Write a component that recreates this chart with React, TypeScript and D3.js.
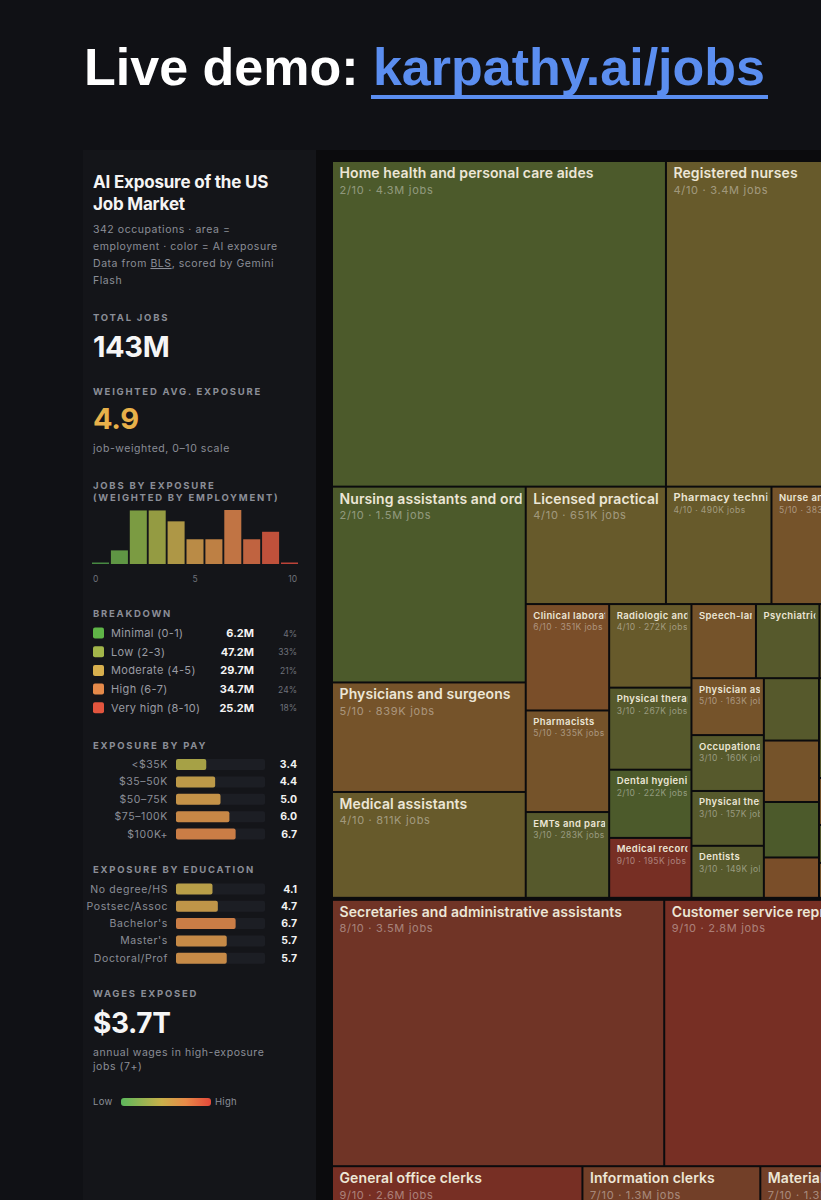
// App.tsx
// AI exposure of the US job market: sidebar stats + treemap, drawn with d3 scales and layout
import React from "react";
import * as d3 from "d3";

// ---- sidebar data ----
const totalJobsLabel = "143M";
const avgExposure = 4.9;
const wagesExposedLabel = "$3.7T";

const histExposure = [0, 1, 2, 3, 4, 5, 6, 7, 8, 9, 10];
const histJobsM = [0.2, 6.0, 23.6, 23.6, 18.8, 10.9, 10.9, 23.8, 10.9, 14.2, 0.1];

const tierLabels = ["Minimal (0-1)", "Low (2-3)", "Moderate (4-5)", "High (6-7)", "Very high (8-10)"];
const tierJobsM = [6.2, 47.2, 29.7, 34.7, 25.2];
const tierPct = [4, 33, 21, 24, 18];

const payBands = ["<$35K", "$35–50K", "$50–75K", "$75–100K", "$100K+"];
const payExposure = [3.4, 4.4, 5.0, 6.0, 6.7];

const eduLevels = ["No degree/HS", "Postsec/Assoc", "Bachelor's", "Master's", "Doctoral/Prof"];
const eduExposure = [4.1, 4.7, 6.7, 5.7, 5.7];

// ---- treemap data ----
const occNames = [
  "Home health and personal care aides",
  "Registered nurses",
  "Nursing assistants and orderlies",
  "Physicians and surgeons",
  "Medical assistants",
  "Licensed practical and licensed vocational nurses",
  "Pharmacy technicians",
  "Nurse anesthetists, nurse midwives, and nurse practitioners",
  "Dental assistants",
  "Clinical laboratory technologists and technicians",
  "Pharmacists",
  "EMTs and paramedics",
  "Radiologic and MRI technologists",
  "Physical therapists",
  "Dental hygienists",
  "Medical records specialists",
  "Speech-language pathologists",
  "Psychiatric technicians and aides",
  "Diagnostic medical sonographers",
  "Physician assistants",
  "Occupational therapists",
  "Physical therapist assistants and aides",
  "Dentists",
  "Respiratory therapists",
  "Surgical technologists",
  "Massage therapists",
  "Opticians, dispensing",
  "Phlebotomists",
  "Dietitians and nutritionists",
  "Veterinarians",
  "Orthotists and prosthetists",
  "Veterinary technologists and technicians",
  "Occupational therapy assistants and aides",
  "Secretaries and administrative assistants",
  "Customer service representatives",
  "General office clerks",
  "Bookkeeping, accounting, and auditing clerks",
  "Information clerks",
  "Financial clerks",
  "Material recording clerks",
  "Postal service workers",
];
const occScore = [2, 4, 2, 5, 4, 4, 4, 5, 3, 6, 5, 3, 4, 3, 2, 9, 5, 3, 4, 5, 3, 3, 3, 3, 5, 2, 6, 3, 5, 3, 5, 4, 3, 8, 9, 9, 9, 7, 8, 7, 4];
const occJobsK = [
  4300, 3400, 1500, 839, 811, 651, 490, 383, 353, 351, 335, 283, 272, 267, 222, 195, 189, 186, 324, 163, 160,
  157, 149, 136, 134, 121, 88, 200, 94, 76, 70, 280, 244, 3500, 2800, 2600, 1370, 1300, 1520, 1300, 1390,
];

// nesting of the tiles: "row" = side by side, "col" = stacked
type Spec = number | (string | Spec)[];
const healthSpec: Spec = ["col",
  ["row", 0, 1],
  ["row",
    ["col", 2, 3, 4],
    ["col",
      ["row", 5, 6, 7, 8],
      ["row",
        ["col", 9, 10, 11],
        ["col", 12, 13, 14, 15],
        ["col",
          ["row", 16, 17, 18],
          ["row", ["col", 19, 20, 21, 22], ["col", 23, 24, 25, 26], ["col", 27, 28, 29, 30], ["col", 31, 32]],
        ],
      ],
    ],
  ],
];
const officeSpec: Spec = ["col", ["row", 33, 34], ["row", ["col", 35, 36], ["col", 37, 38], ["col", 39, 40]]];
const rootSpec: Spec = ["col", healthSpec, officeSpec];

interface TNode { dir?: string; idx?: number; children?: TNode[] }
function build(s: Spec): TNode {
  if (typeof s === "number") return { idx: s };
  const [dir, ...rest] = s;
  return { dir: dir as string, children: rest.map((r) => build(r as Spec)) };
}

const bright = d3.scaleLinear<string>()
  .domain([0, 1, 2, 3, 4, 5, 6, 7, 8, 9, 10])
  .range(["#4f9a48", "#6aa84a", "#8aae48", "#a6ae48", "#c4aa4c", "#d29c4c", "#d6904a", "#da824a", "#d86e46", "#d85a40", "#d44a3c"]);
const tierColors = ["#5fb547", "#a3b64a", "#d8b04e", "#e58a4a", "#e2553e"];
const dark = d3.scaleLinear<string>()
  .domain([0, 2, 3, 4, 5, 6, 7, 8, 9, 10])
  .range(["#3e5a2c", "#4c5a2b", "#56592c", "#675a2b", "#75532a", "#7a4e29", "#723f28", "#703426", "#772f24", "#7e2a22"]);

const FONT = "Inter, 'Noto Sans', sans-serif";
const GREY = "#8b8e97";

function fmtJobs(k: number) {
  return k >= 1000 ? `${(k / 1000).toFixed(1)}M` : `${k}K`;
}

export default function App() {
  // treemap layout
  const tmW = 596, tmH = 1404, tmX = 333, tmY = 162;
  const root = d3.hierarchy<TNode>(build(rootSpec)).sum((d) => (d.idx !== undefined ? occJobsK[d.idx] : 0));
  d3.treemap<TNode>()
    .size([tmW, tmH])
    .paddingInner((n) => (n.depth === 0 ? 4 : 2))
    .tile((node, x0, y0, x1, y1) =>
      (node.data.dir === "row" ? d3.treemapDice : d3.treemapSlice)(node, x0, y0, x1, y1))(root);
  const leaves = root.leaves() as d3.HierarchyRectangularNode<TNode>[];

  // histogram scales
  const hx = d3.scaleBand<number>().domain(histExposure).range([92, 298]).paddingInner(0.1);
  const hy = d3.scaleLinear().domain([0, d3.max(histJobsM) as number]).range([0, 54]);
  const histBase = 564;
  const tickX = d3.scaleLinear().domain([0, 10]).range([93, 297]);

  // horizontal bar scale (0-10)
  const barX = d3.scaleLinear().domain([0, 10]).range([0, 89]);

  const sectionLabel = (txt: string, y: number) => (
    <text x={93} y={y} fontSize={9.5} fontWeight={700} letterSpacing={1.75} fill={GREY}>{txt}</text>
  );

  const barRows = (labels: string[], vals: number[], y0: number, step: number) =>
    labels.map((l, i) => {
      const cy = y0 + i * step;
      return (
        <g key={l}>
          <text x={168} y={cy + 3.5} textAnchor="end" fontSize={10.5} letterSpacing={0.6} fill={GREY}>{l}</text>
          <rect x={176} y={cy - 5.5} width={barX(10)} height={11} rx={2} fill="#1c1e24" />
          <rect x={176} y={cy - 5.5} width={barX(vals[i])} height={11} rx={2} fill={bright(vals[i])} opacity={0.92} />
          <text x={297} y={cy + 3.5} textAnchor="end" fontSize={10.5} fontWeight={700} fill="#f2f2f2">{vals[i].toFixed(1)}</text>
        </g>
      );
    });

  return (
    <div style={{ position: "absolute", left: 0, top: 0, width: 821, height: 1200, overflow: "hidden", background: "#101115" }}>
      <svg width={821} height={1200} style={{ display: "block", fontFamily: FONT }}>
        <defs>
          <linearGradient id="legendGrad" x1="0" x2="1" y1="0" y2="0">
            <stop offset="0%" stopColor="#5cb85c" />
            <stop offset="45%" stopColor="#c9b04a" />
            <stop offset="72%" stopColor="#e88a48" />
            <stop offset="100%" stopColor="#e4483a" />
          </linearGradient>
          {leaves.map((d, i) => (
            <clipPath id={`clip-${i}`} key={i}>
              <rect x={d.x0} y={d.y0} width={Math.max(0, d.x1 - d.x0 - 3)} height={d.y1 - d.y0} />
            </clipPath>
          ))}
        </defs>

        {/* headline */}
        <text x={84} y={85} fontFamily="'Liberation Sans', Arial, sans-serif" fontWeight={700} fontSize={52} fill="#ffffff">
          Live demo: <tspan fill="#5b8ef0">karpathy.ai/jobs</tspan>
        </text>
        <rect x={371} y={95} width={397} height={4} fill="#5b8ef0" />

        {/* panels */}
        <rect x={83} y={150} width={233} height={1050} fill="#141519" />
        <rect x={316} y={150} width={505} height={1050} fill="#0b0b0d" />

        {/* sidebar */}
        <g>
          <text x={93} y={188} fontSize={17} fontWeight={700} fill="#f4f4f4" letterSpacing={-0.2}>AI Exposure of the US</text>
          <text x={93} y={210} fontSize={17} fontWeight={700} fill="#f4f4f4" letterSpacing={-0.2}>Job Market</text>
          <g fontSize={10.5} letterSpacing={0.55} fill={GREY}>
            <text x={93} y={233}>342 occupations · area =</text>
            <text x={93} y={250}>employment · color = AI exposure</text>
            <text x={93} y={267}>
              Data from <tspan textDecoration="underline" style={{ textDecoration: "underline" }}>BLS</tspan>, scored by Gemini
            </text>
            <text x={93} y={284}>Flash</text>
          </g>

          {sectionLabel("TOTAL JOBS", 321)}
          <text x={93} y={357} fontSize={29} fontWeight={700} fill="#f6f6f6" letterSpacing={-0.4}>{totalJobsLabel}</text>

          {sectionLabel("WEIGHTED AVG. EXPOSURE", 395)}
          <text x={93} y={429} fontSize={29} fontWeight={700} fill="#e8b14a" letterSpacing={-0.4}>{avgExposure.toFixed(1)}</text>
          <text x={93} y={452} fontSize={10.5} letterSpacing={0.55} fill={GREY}>job-weighted, 0–10 scale</text>

          {sectionLabel("JOBS BY EXPOSURE", 489)}
          {sectionLabel("(WEIGHTED BY EMPLOYMENT)", 501)}
          {histExposure.map((e, i) => {
            const h = Math.max(hy(histJobsM[i]), 1.5);
            return (
              <rect key={e} x={hx(e)} y={histBase - h} width={hx.bandwidth()} height={h} fill={bright(e)} opacity={0.88} />
            );
          })}
          {[0, 5, 10].map((t, i) => (
            <text key={t} x={tickX(t)} y={582} fontSize={8.5} fill="#6f727a" textAnchor={["start", "middle", "end"][i]}>{t}</text>
          ))}

          {sectionLabel("BREAKDOWN", 617)}
          {tierLabels.map((l, i) => {
            const cy = 633 + i * 18.7;
            return (
              <g key={l}>
                <rect x={93} y={cy - 5.5} width={11} height={11} rx={2} fill={tierColors[i]} />
                <text x={111} y={cy + 4} fontSize={11} letterSpacing={0.35} fill="#9a9ca4">{l}</text>
                <text x={254} y={cy + 4} textAnchor="end" fontSize={11} fontWeight={700} fill="#f4f4f4">{tierJobsM[i].toFixed(1)}M</text>
                <text x={297} y={cy + 3.5} textAnchor="end" fontSize={8.5} fill="#6f727a">{tierPct[i]}%</text>
              </g>
            );
          })}

          {sectionLabel("EXPOSURE BY PAY", 749)}
          {barRows(payBands, payExposure, 764.5, 17.4)}

          {sectionLabel("EXPOSURE BY EDUCATION", 873)}
          {barRows(eduLevels, eduExposure, 889, 17.3)}

          {sectionLabel("WAGES EXPOSED", 997)}
          <text x={93} y={1033} fontSize={28} fontWeight={700} fill="#f6f6f6" letterSpacing={-0.4}>{wagesExposedLabel}</text>
          <text x={93} y={1056} fontSize={10.5} letterSpacing={0.55} fill={GREY}>annual wages in high-exposure</text>
          <text x={93} y={1070} fontSize={10.5} letterSpacing={0.55} fill={GREY}>jobs (7+)</text>

          <text x={93} y={1105} fontSize={9.5} letterSpacing={0.3} fill={GREY}>Low</text>
          <rect x={121} y={1098} width={90} height={8} rx={3} fill="url(#legendGrad)" />
          <text x={215} y={1105} fontSize={9.5} letterSpacing={0.3} fill={GREY}>High</text>
        </g>

        {/* treemap */}
        <g transform={`translate(${tmX},${tmY})`}>
          {leaves.map((d, i) => {
            const idx = d.data.idx as number;
            const w = d.x1 - d.x0, h = d.y1 - d.y0;
            let ns = 0, ss = 0, nd = 0, sd = 0, nls = 0, sls = 0;
            if (w >= 120 && h >= 40) { ns = 14; ss = 11; nd = 16; sd = 31.5; nls = 0.1; sls = 0.7; }
            else if (w >= 90) { ns = 11; ss = 8.5; nd = 13.5; sd = 25; nls = 0.4; sls = 0.4; }
            else if (w >= 60) { ns = 9.5; ss = 8.5; nd = 13.5; sd = 25; nls = 0.4; sls = 0.4; }
            return (
              <g key={i}>
                <rect x={d.x0} y={d.y0} width={w} height={h} fill={dark(occScore[idx])} />
                {ns > 0 && h >= 22 && (
                  <g clipPath={`url(#clip-${i})`}>
                    <text x={d.x0 + 6.5} y={d.y0 + nd} fontSize={ns} fontWeight={600} letterSpacing={nls} fill="#ece6d6">{occNames[idx]}</text>
                    {w >= 68 && h >= 30 && (
                      <text x={d.x0 + 6.5} y={d.y0 + sd} fontSize={ss} letterSpacing={sls} fill="#ffffff" fillOpacity={0.4}>
                        {occScore[idx]}/10 · {fmtJobs(occJobsK[idx])} jobs
                      </text>
                    )}
                  </g>
                )}
              </g>
            );
          })}
        </g>
      </svg>
    </div>
  );
}
